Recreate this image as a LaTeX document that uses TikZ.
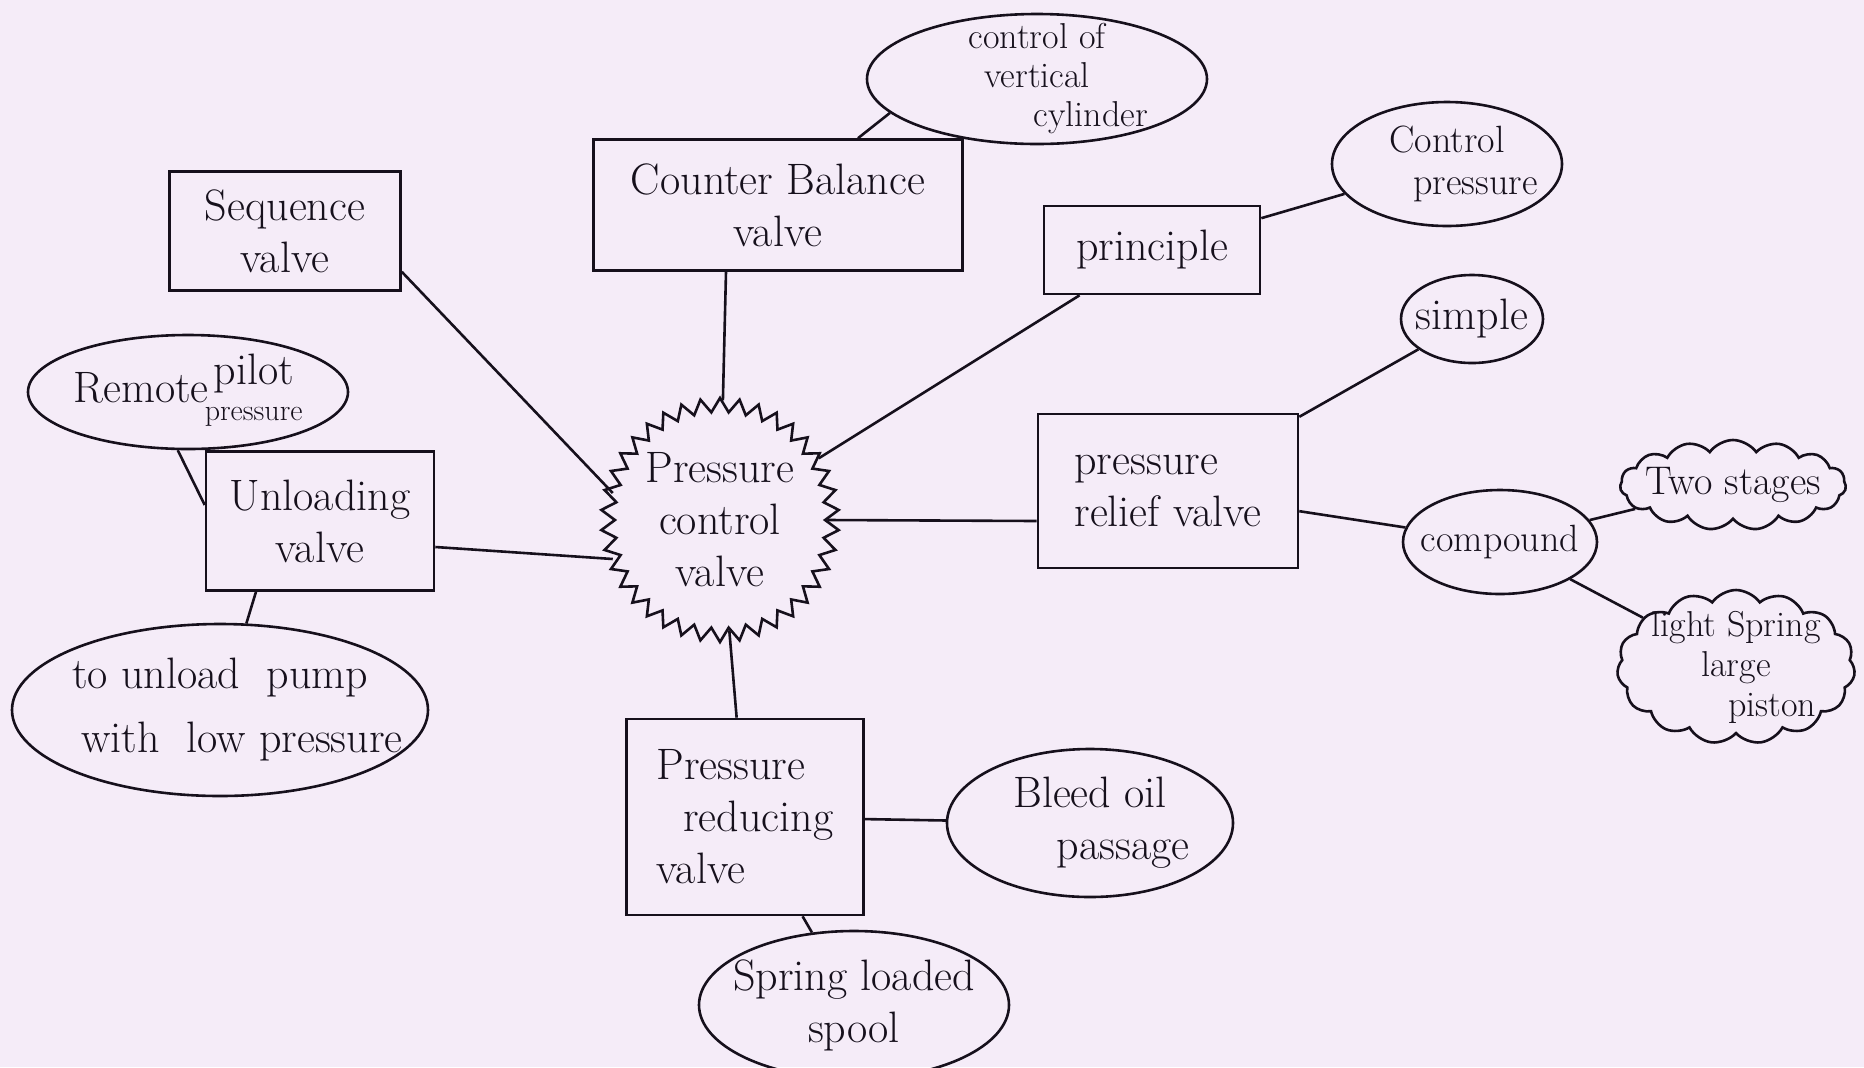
\documentclass[tikz,border=0pt]{standalone}
\usetikzlibrary{shapes.symbols,shapes.geometric}
\definecolor{paper}{RGB}{245,236,248}
\definecolor{ink}{RGB}{22,16,28}
\tikzset{
 every node/.style={font=\fontsize{22}{26}\selectfont, text=ink},
 box/.style={draw=ink, line width=1.3pt, rectangle, inner sep=0pt, align=center},
 oval/.style={draw=ink, line width=1.3pt, ellipse, inner sep=-12pt, align=center},
 puff/.style={draw=ink, line width=1.3pt, cloud, cloud puffs=15, cloud puff arc=110, cloud ignores aspect, inner sep=-10pt, align=center},
 burst/.style={draw=ink, line width=1.3pt, starburst, starburst points=38, starburst point height=7pt, random starburst=0, inner sep=0pt, align=center},
 link/.style={draw=ink, line width=1.3pt},
}
\begin{document}
\begin{tikzpicture}[x=0.5pt,y=-0.5pt]
\fill[paper] (0,0) rectangle (1864,1067);
\clip (0,0) rectangle (1864,1067);

% nodes
\node[burst, minimum width=112pt, minimum height=122pt] (pcv) at (720,520) {Pressure\\control\\valve};
\node[box, minimum width=184.5pt, minimum height=65.5pt] (cb) at (778,205) {Counter Balance\\valve};
\node[oval, minimum width=170pt, minimum height=65pt, inner sep=-30pt, font=\fontsize{18}{19.5}\selectfont] (cvc) at (1037,79) {control of\\vertical\\\hspace*{3em}cylinder};
\node[box, minimum width=115.5pt, minimum height=59.5pt] (seq) at (285,231) {Sequence\\valve};
\node[box, minimum width=108pt, minimum height=44pt] (prin) at (1152,250) {principle};
\node[oval, minimum width=115pt, minimum height=62pt, inner sep=-16pt, font=\fontsize{19}{21}\selectfont] (cp) at (1447,164) {Control\\\hspace*{1.5em}pressure};
\node[oval, minimum width=71pt, minimum height=44pt, inner sep=-4pt] (simple) at (1472,319) {simple};
\node[oval, minimum width=160pt, minimum height=57pt] (rpp) at (188,392) {Remote\hspace{-2pt}\begin{tabular}{@{}c@{}}pilot\\[-8pt]{\fontsize{15}{15}\selectfont pressure}\end{tabular}};
\node[box, minimum width=114pt, minimum height=69.5pt] (unl) at (320,521) {Unloading\\valve};
\node[oval, minimum width=208pt, minimum height=86pt, inner sep=-30pt] (tup) at (220,710) {to unload\ \ pump\\[6pt]\hspace*{1em}with\ \ low pressure};
\node[box, minimum width=130pt, minimum height=77pt, align=left] (prv) at (1168,491) {pressure\\relief valve};
\node[oval, minimum width=97pt, minimum height=52pt, inner sep=-14pt, font=\fontsize{19}{22}\selectfont] (comp) at (1500,542) {compound};
\node[puff, minimum width=113pt, minimum height=45pt, font=\fontsize{20}{22}\selectfont] (two) at (1733,485) {Two stages};
\node[puff, minimum width=119pt, minimum height=77pt, inner sep=-16pt, font=\fontsize{18}{20}\selectfont] (light) at (1736,667) {light Spring\\large\\\hspace*{2em}piston};
\node[box, minimum width=118.5pt, minimum height=98pt, align=left] (prd) at (745,817) {Pressure\\\ \ reducing\\valve};
\node[oval, minimum width=143pt, minimum height=74pt] (bleed) at (1090,823) {Bleed oil\\\hspace*{1.5em}passage};
\node[oval, minimum width=155pt, minimum height=74pt] (spring) at (854,1005) {Spring loaded\\spool};

% connectors
\draw[link] ([yshift=10pt]seq.south east) -- ([yshift=13.5pt]pcv.west);
\draw[link] ([xshift=-26pt]cb.south) -- (pcv);
\draw[link] (prin) -- (pcv);
\draw[link] ([yshift=-15pt]prv.west) -- (pcv.east);
\draw[link] ([yshift=-13pt]unl.east) -- ([yshift=-19.5pt]pcv.west);
\draw[link] (pcv) -- (prd);
\draw[link] (prd) -- (bleed);
\draw[link] (prd) -- (spring);
\draw[link] (prin) -- (cp);
\draw[link] (prv) -- (simple);
\draw[link] (prv) -- (comp);
\draw[link] (comp) -- (two);
\draw[link] (comp) -- (light);
\draw[link] (rpp.-100) -- ([yshift=8pt]unl.west);
\draw[link] ([xshift=-32pt]unl.south) -- (tup);
\draw[link] ([xshift=40pt]cb.north) -- (cvc.193);
\end{tikzpicture}
\end{document}
